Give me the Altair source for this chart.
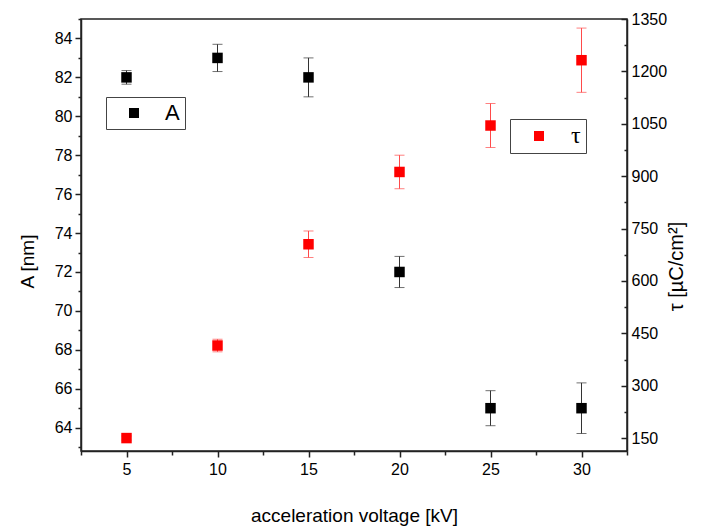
import altair as alt
import pandas as pd

voltage = [5, 10, 15, 20, 25, 30]
A_vals = [82.0, 83.0, 82.0, 72.0, 65.0, 65.0]
A_err = [0.35, 0.7, 1.0, 0.8, 0.9, 1.3]
tau_vals = [150, 415, 705, 912, 1045, 1232]
tau_err = [6, 18, 38, 48, 63, 92]

x_ticks = [2.5 + 2.5 * i for i in range(13)]
a_ticks = list(range(63, 86))
tau_ticks = [150 + 75 * i for i in range(17)]

dfA = pd.DataFrame({
    "v": voltage, "val": A_vals,
    "lo": [a - e for a, e in zip(A_vals, A_err)],
    "hi": [a + e for a, e in zip(A_vals, A_err)],
    "series": ["A"] * len(voltage),
})
dfT = pd.DataFrame({
    "v": voltage, "val": tau_vals,
    "lo": [a - e for a, e in zip(tau_vals, tau_err)],
    "hi": [a + e for a, e in zip(tau_vals, tau_err)],
    "series": ["τ"] * len(voltage),
})

FONT = "Liberation Sans"

x_enc = alt.X("v:Q", scale=alt.Scale(domain=[2.5, 32.5], nice=False, zero=False),
              axis=alt.Axis(title="acceleration voltage [kV]", values=x_ticks,
                            labelExpr="datum.value % 5 == 0 ? datum.label : ''",
                            tickSize={"expr": "datum.value % 5 == 0 ? 6 : 4"},
                            grid=False, labelFontSize=16, titleFontSize=19,
                            labelFont=FONT, titleFont=FONT, labelColor="black",
                            titleColor="black", titleFontWeight="normal",
                            domainColor="#222", tickColor="#222", domainWidth=1.5,
                            tickWidth=1.5, labelPadding=4, titlePadding=29))

axisA = alt.Axis(title="A [nm]", orient="left", values=a_ticks,
                 labelExpr="datum.value % 2 == 0 ? datum.label : ''",
                 tickSize={"expr": "datum.value % 2 == 0 ? 6 : 3"},
                 grid=False, labelFontSize=16, titleFontSize=19,
                 labelFont=FONT, titleFont=FONT, labelColor="black",
                 titleColor="black", titleFontWeight="normal",
                 domainColor="#222", tickColor="#222", domainWidth=1.5,
                 tickWidth=1.5, labelPadding=3, titlePadding=17, titleY=242)

axisT = alt.Axis(title="τ [µC/cm²]", orient="right", values=tau_ticks, format="d",
                 labelExpr="datum.value % 150 == 0 ? datum.label : ''",
                 tickSize={"expr": "datum.value % 150 == 0 ? -6 : -3"},
                 grid=False, labelFontSize=16, titleFontSize=20,
                 labelFont=FONT, titleFont=FONT, labelColor="black",
                 titleColor="black", titleFontWeight="normal", titleAngle=270,
                 domainColor="#222", tickColor="#222", domainWidth=1.5,
                 tickWidth=1.5, labelPadding=10, titlePadding=20, titleY=247)

scaleA = alt.Scale(domain=[62.8, 85], nice=False, zero=False)
scaleT = alt.Scale(domain=[113, 1350], nice=False, zero=False)

errA = alt.Chart(dfA).mark_errorbar(ticks={"size": 10}, color="#333", thickness=1).encode(
    x=x_enc,
    y=alt.Y("lo:Q", scale=scaleA, axis=axisA),
    y2="hi:Q",
)
ptsA = alt.Chart(dfA).mark_square(size=110, opacity=1).encode(
    x=x_enc,
    y=alt.Y("val:Q", scale=scaleA, axis=axisA),
    color=alt.Color("series:N", scale=alt.Scale(domain=["A"], range=["black"]),
                    legend=alt.Legend(title=None, orient="none", legendX=25, legendY=78,
                                      strokeColor="#444", fillColor="white", padding=5,
                                      symbolType="square", symbolSize=100, symbolOffset=12,
                                      labelOffset=20, labelFontSize=22, labelFont=FONT,
                                      labelColor="black", labelLimit=0)),
)

errT = alt.Chart(dfT).mark_errorbar(ticks={"size": 10}, color="#ff4a4a", thickness=1).encode(
    x=x_enc,
    y=alt.Y("lo:Q", scale=scaleT, axis=axisT),
    y2="hi:Q",
)
ptsT = alt.Chart(dfT).mark_square(size=110, opacity=1).encode(
    x=x_enc,
    y=alt.Y("val:Q", scale=scaleT, axis=axisT),
    color=alt.Color("series:N", scale=alt.Scale(domain=["τ"], range=["red"]),
                    legend=alt.Legend(title=None, orient="none", legendX=429, legendY=100,
                                      strokeColor="#444", fillColor="white", padding=5,
                                      symbolType="square", symbolSize=100, symbolOffset=12,
                                      labelOffset=20, labelFontSize=24, labelFont="Liberation Serif",
                                      labelColor="black", labelLimit=0)),
)

layerA = alt.layer(errA, ptsA)
layerT = alt.layer(errT, ptsT)

chart = alt.layer(layerA, layerT).resolve_scale(
    y="independent", color="independent"
).properties(
    width=546, height=432,
    padding={"left": 81, "top": 19, "right": 78, "bottom": 80},
    autosize=alt.AutoSizeParams(type="none"),
    background="white",
).configure_view(stroke="#222", strokeWidth=1.5)

chart.save("out.html", embed_options={"renderer": "svg", "actions": False})
